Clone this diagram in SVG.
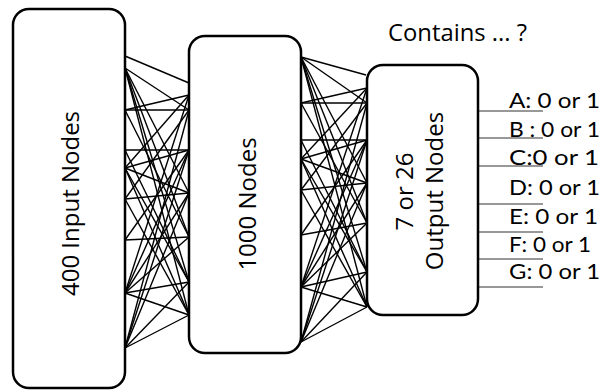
<svg xmlns="http://www.w3.org/2000/svg" width="607" height="390" viewBox="0 0 607 390">
<style>
.box{fill:#fff;stroke:#000;stroke-width:2.5}
.lbl{font-family:"Open Sans","Noto Sans",sans-serif;font-size:24px;fill:#000;text-anchor:middle}
.conn line{stroke:#000;stroke-width:1.4}
.out line{stroke:#333;stroke-width:1.2}
.val{font-family:Lato,"Noto Sans",sans-serif;font-size:22px;fill:#000}
.title{font-family:"Open Sans","Noto Sans",sans-serif;font-size:23px;fill:#000}
</style>
<rect width="607" height="390" fill="#fff"/>
<g id="connectors" class="conn">
<line x1="125" y1="56" x2="189" y2="83"/>
<line x1="125" y1="68" x2="189" y2="110"/>
<line x1="125" y1="68" x2="189" y2="193"/>
<line x1="125" y1="68" x2="189" y2="237"/>
<line x1="125" y1="68" x2="189" y2="282"/>
<line x1="125" y1="68" x2="189" y2="315"/>
<line x1="125" y1="110" x2="189" y2="110"/>
<line x1="125" y1="110" x2="189" y2="237"/>
<line x1="125" y1="110" x2="189" y2="95"/>
<line x1="125" y1="150" x2="189" y2="150"/>
<line x1="125" y1="150" x2="189" y2="282"/>
<line x1="125" y1="168" x2="189" y2="95"/>
<line x1="125" y1="168" x2="189" y2="150"/>
<line x1="125" y1="168" x2="189" y2="193"/>
<line x1="125" y1="168" x2="189" y2="282"/>
<line x1="125" y1="168" x2="189" y2="315"/>
<line x1="125" y1="199" x2="189" y2="193"/>
<line x1="125" y1="199" x2="189" y2="110"/>
<line x1="125" y1="199" x2="189" y2="315"/>
<line x1="125" y1="240" x2="189" y2="150"/>
<line x1="125" y1="240" x2="189" y2="237"/>
<line x1="125" y1="293" x2="189" y2="95"/>
<line x1="125" y1="293" x2="189" y2="150"/>
<line x1="125" y1="293" x2="189" y2="193"/>
<line x1="125" y1="293" x2="189" y2="237"/>
<line x1="125" y1="293" x2="189" y2="282"/>
<line x1="125" y1="293" x2="189" y2="315"/>
<line x1="125" y1="348" x2="189" y2="110"/>
<line x1="125" y1="348" x2="189" y2="150"/>
<line x1="125" y1="348" x2="189" y2="193"/>
<line x1="125" y1="348" x2="189" y2="282"/>
<line x1="125" y1="348" x2="189" y2="315"/>
<line x1="301" y1="57" x2="366" y2="75"/>
<line x1="301" y1="57" x2="367" y2="103"/>
<line x1="301" y1="57" x2="367" y2="183"/>
<line x1="301" y1="57" x2="367" y2="223"/>
<line x1="301" y1="57" x2="367" y2="272"/>
<line x1="301" y1="57" x2="367" y2="307"/>
<line x1="301" y1="103" x2="367" y2="103"/>
<line x1="301" y1="103" x2="367" y2="223"/>
<line x1="301" y1="103" x2="367" y2="88"/>
<line x1="301" y1="140" x2="367" y2="140"/>
<line x1="301" y1="140" x2="367" y2="272"/>
<line x1="301" y1="159" x2="367" y2="88"/>
<line x1="301" y1="159" x2="367" y2="140"/>
<line x1="301" y1="159" x2="367" y2="183"/>
<line x1="301" y1="159" x2="367" y2="272"/>
<line x1="301" y1="159" x2="367" y2="307"/>
<line x1="301" y1="190" x2="367" y2="183"/>
<line x1="301" y1="190" x2="367" y2="103"/>
<line x1="301" y1="190" x2="367" y2="307"/>
<line x1="301" y1="235" x2="367" y2="140"/>
<line x1="301" y1="235" x2="367" y2="223"/>
<line x1="301" y1="287" x2="367" y2="88"/>
<line x1="301" y1="287" x2="367" y2="140"/>
<line x1="301" y1="287" x2="367" y2="183"/>
<line x1="301" y1="287" x2="367" y2="223"/>
<line x1="301" y1="287" x2="367" y2="272"/>
<line x1="301" y1="287" x2="367" y2="307"/>
<line x1="301" y1="342" x2="367" y2="103"/>
<line x1="301" y1="342" x2="367" y2="140"/>
<line x1="301" y1="342" x2="367" y2="183"/>
<line x1="301" y1="342" x2="367" y2="272"/>
<line x1="301" y1="342" x2="367" y2="307"/>
</g>
<g id="outputs" class="out">
<line x1="478" y1="111" x2="543" y2="111"/>
<line x1="478" y1="138" x2="543" y2="138"/>
<line x1="478" y1="166" x2="543" y2="166"/>
<line x1="478" y1="204" x2="543" y2="204"/>
<line x1="478" y1="232" x2="543" y2="232"/>
<line x1="478" y1="259" x2="543" y2="259"/>
<line x1="478" y1="287" x2="543" y2="287"/>
</g>
<g id="input">
<rect class="box" x="13" y="9" width="112" height="379" rx="16"/>
<text class="lbl" transform="translate(79,203.5) rotate(-90)">400 Input Nodes</text>
</g>
<g id="hidden">
<rect class="box" x="189" y="36" width="112" height="317" rx="16"/>
<text class="lbl" transform="translate(256,204) rotate(-90)">1000 Nodes</text>
</g>
<g id="output">
<rect class="box" x="367" y="65" width="111" height="250" rx="16"/>
<text class="lbl" transform="translate(413,191.5) rotate(-90)">7 or 26</text>
<text class="lbl" transform="translate(443,191) rotate(-90)">Output Nodes</text>
</g>
<g id="labels">
<text class="title" x="388" y="41" textLength="139" lengthAdjust="spacingAndGlyphs">Contains ... ?</text>
<text class="val" x="509" y="108" textLength="91" lengthAdjust="spacingAndGlyphs">A: 0 or 1</text>
<text class="val" x="509" y="137" textLength="91" lengthAdjust="spacingAndGlyphs">B : 0 or 1</text>
<text class="val" x="509" y="165" textLength="90" lengthAdjust="spacingAndGlyphs">C:0 or 1</text>
<text class="val" x="509" y="195" textLength="91" lengthAdjust="spacingAndGlyphs">D: 0 or 1</text>
<text class="val" x="509" y="224" textLength="89" lengthAdjust="spacingAndGlyphs">E: 0 or 1</text>
<text class="val" x="509" y="252" textLength="82" lengthAdjust="spacingAndGlyphs">F: 0 or 1</text>
<text class="val" x="509" y="279" textLength="91" lengthAdjust="spacingAndGlyphs">G: 0 or 1</text>
</g>
</svg>
